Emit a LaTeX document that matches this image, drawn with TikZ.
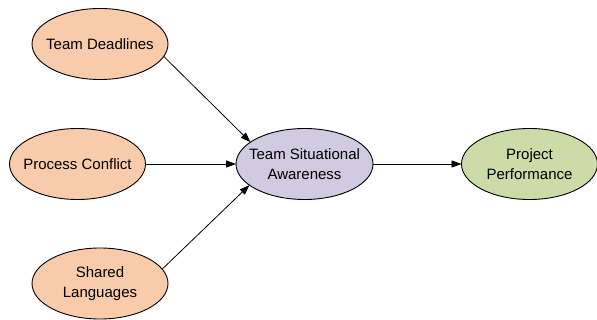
\documentclass[tikz,border=0pt]{standalone}
\usepackage{fontspec}
\setmainfont{Liberation Sans}
\usetikzlibrary{shapes.geometric,arrows.meta}
\definecolor{peach}{RGB}{248,203,170}
\definecolor{lilac}{RGB}{208,203,224}
\definecolor{sage}{RGB}{204,220,168}
\begin{document}
\begin{tikzpicture}[x=1pt,y=-1pt,
  ell/.style={ellipse, draw=black, line width=0.9pt, minimum width=136pt, minimum height=71pt,
    inner sep=0pt, outer sep=0pt},
  lbl/.style={align=center, inner sep=0pt, font=\fontsize{15}{19.5}\selectfont},
  arr/.style={-{Triangle[length=10pt,width=7pt]}, line width=0.8pt}]
\useasboundingbox (0,0) rectangle (597,320);
\node[ell, fill=peach, label={[lbl]center:Team Deadlines}] (td) at (100,44) {};
\node[ell, fill=peach, label={[lbl]center:Process Conflict}] (pc) at (77.5,164) {};
\node[ell, fill=peach, label={[lbl]center:Shared\\Languages}] (sl) at (100,283.5) {};
\node[ell, fill=lilac, minimum width=137pt, label={[lbl]center:Team Situational\\Awareness}] (tsa) at (304.5,164) {};
\node[ell, fill=sage, label={[lbl]center:Project\\Performance}] (pp) at (529.5,164) {};
\draw[arr] (td.-11) -- (tsa.158);
\draw[arr] (pc.east) -- (tsa.west);
\draw[arr] (sl.13) -- (tsa.201);
\draw[arr] (tsa.east) -- (pp.west);
\end{tikzpicture}
\end{document}
